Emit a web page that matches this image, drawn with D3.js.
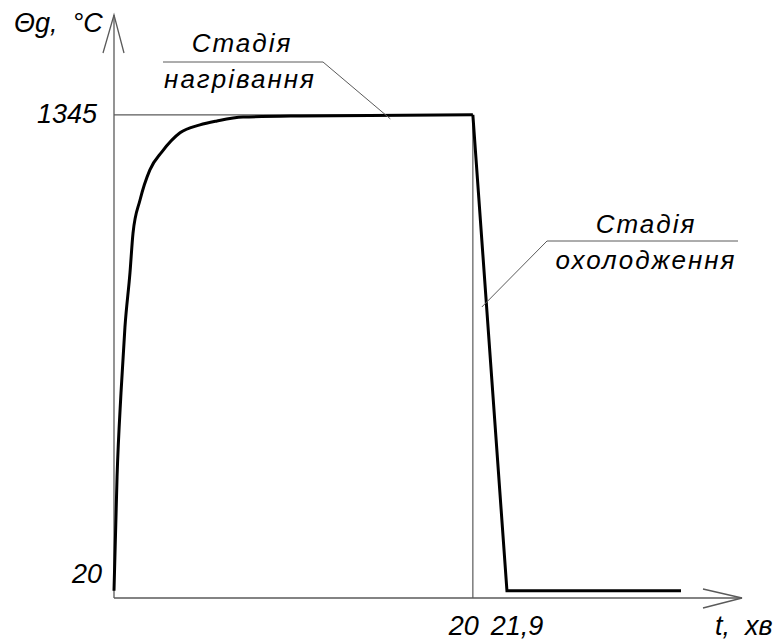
<!DOCTYPE html>
<html>
<head>
<meta charset="utf-8">
<script src="https://cdn.jsdelivr.net/npm/d3@7/dist/d3.min.js"></script>
<style>
  html, body { margin: 0; padding: 0; background: #fff; }
  svg { display: block; }
  text { font-family: "Liberation Sans", Arial, sans-serif; font-style: italic; fill: #000; }
</style>
</head>
<body>
<script>
// Heating stage: gas temperature rises from 20 °C and levels off at 1345 °C
const heatT = [0, 0.17, 0.39, 0.61, 0.89, 1.06, 1.45, 2.0, 2.67, 3.68, 4.79, 5.74, 7.19, 10.4, 20];
const heatTemp = [20, 337, 571, 754, 905, 1016, 1108, 1192, 1242, 1295, 1317, 1328, 1339, 1342, 1345];
// Cooling stage: linear drop back to 20 °C, then flat
const coolT = [20, 21.9, 31.6];
const coolTemp = [1345, 20, 20];

const yTicks = [20, 1345];
const xTicks = [20, 21.9];
const xTickLabels = ["20", "21,9"];
const yTitle = "Θg,  °C";
const xTitle = "t,  хв";
const heatLabel = ["Стадія", "нагрівання"];
const coolLabel = ["Стадія", "охолодження"];

const W = 783, H = 641;
const svg = d3.select("body").append("svg").attr("width", W).attr("height", H);

const x = d3.scaleLinear().domain([0, 35]).range([114, 742]);
const y = d3.scaleLinear().domain([0, 1623]).range([598, 15]);

const axisColor = "#5a5a5a";

// Guide lines at the plateau level and at t = 20
svg.append("line")
  .attr("x1", x(0)).attr("x2", x(20))
  .attr("y1", y(1345)).attr("y2", y(1345))
  .attr("stroke", axisColor).attr("stroke-width", 1.2);
svg.append("line")
  .attr("x1", x(20)).attr("x2", x(20))
  .attr("y1", y(1345)).attr("y2", y(0))
  .attr("stroke", axisColor).attr("stroke-width", 1.2);

// Axes with open arrowheads
const axes = svg.append("g").attr("stroke", axisColor).attr("stroke-width", 1.3).attr("fill", "none");
axes.append("line").attr("x1", x(0)).attr("y1", y(0)).attr("x2", x(0)).attr("y2", y(1623));
axes.append("polyline").attr("points", [
  [x(0) - 11, y(1623) + 38], [x(0), y(1623)], [x(0) + 10, y(1623) + 38]
].map(p => p.join(",")).join(" "));
axes.append("line").attr("x1", x(0)).attr("y1", y(0)).attr("x2", x(35)).attr("y2", y(0));
axes.append("polyline").attr("points", [
  [x(35) - 39, y(0) - 9], [x(35), y(0)], [x(35) - 39, y(0) + 10]
].map(p => p.join(",")).join(" "));

// Temperature curve
const heatData = heatT.map((t, i) => [t, heatTemp[i]]);
const coolData = coolT.map((t, i) => [t, coolTemp[i]]);
const lineCurve = d3.line().x(d => x(d[0])).y(d => y(d[1])).curve(d3.curveMonotoneX);
const lineStraight = d3.line().x(d => x(d[0])).y(d => y(d[1]));
svg.append("path").attr("d", lineCurve(heatData))
  .attr("fill", "none").attr("stroke", "#000").attr("stroke-width", 3).attr("stroke-linejoin", "round");
svg.append("path").attr("d", lineStraight(coolData))
  .attr("fill", "none").attr("stroke", "#000").attr("stroke-width", 3).attr("stroke-linejoin", "miter");

// Tick labels
const fs = 27;
svg.append("text").attr("x", x(0) - 12).attr("y", y(20) - 8)
  .attr("text-anchor", "end").attr("font-size", fs).text(yTicks[0]);
svg.append("text").attr("x", x(0) - 17).attr("y", y(1345) + 8)
  .attr("text-anchor", "end").attr("font-size", fs).text(yTicks[1]);
svg.append("text").attr("x", x(xTicks[0]) - 9).attr("y", 635)
  .attr("text-anchor", "middle").attr("font-size", fs).text(xTickLabels[0]);
svg.append("text").attr("x", x(xTicks[1]) + 10).attr("y", 635)
  .attr("text-anchor", "middle").attr("font-size", fs).text(xTickLabels[1]);

// Axis titles
svg.append("text").attr("x", 14).attr("y", 32).attr("font-size", fs)
  .attr("xml:space", "preserve").text(yTitle);
svg.append("text").attr("x", 715).attr("y", 635).attr("font-size", fs)
  .attr("xml:space", "preserve").text(xTitle);

// Stage callouts with leader lines
const leader = svg.append("g").attr("stroke", axisColor).attr("stroke-width", 1).attr("fill", "none");
leader.append("polyline").attr("points", [[163, 62], [323, 62], [x(15.4), y(1345) + 4]].map(p => p.join(",")).join(" "));
leader.append("polyline").attr("points", [[738, 241], [547, 241], [x(20.5), 307]].map(p => p.join(",")).join(" "));

svg.append("text").attr("x", 242).attr("y", 52).attr("text-anchor", "middle")
  .attr("font-size", 26).attr("letter-spacing", 2).text(heatLabel[0]);
svg.append("text").attr("x", 240).attr("y", 88).attr("text-anchor", "middle")
  .attr("font-size", 26).attr("letter-spacing", 2).text(heatLabel[1]);
svg.append("text").attr("x", 646).attr("y", 233).attr("text-anchor", "middle")
  .attr("font-size", 26).attr("letter-spacing", 2).text(coolLabel[0]);
svg.append("text").attr("x", 646).attr("y", 269).attr("text-anchor", "middle")
  .attr("font-size", 26).attr("letter-spacing", 2).text(coolLabel[1]);
</script>
</body>
</html>
